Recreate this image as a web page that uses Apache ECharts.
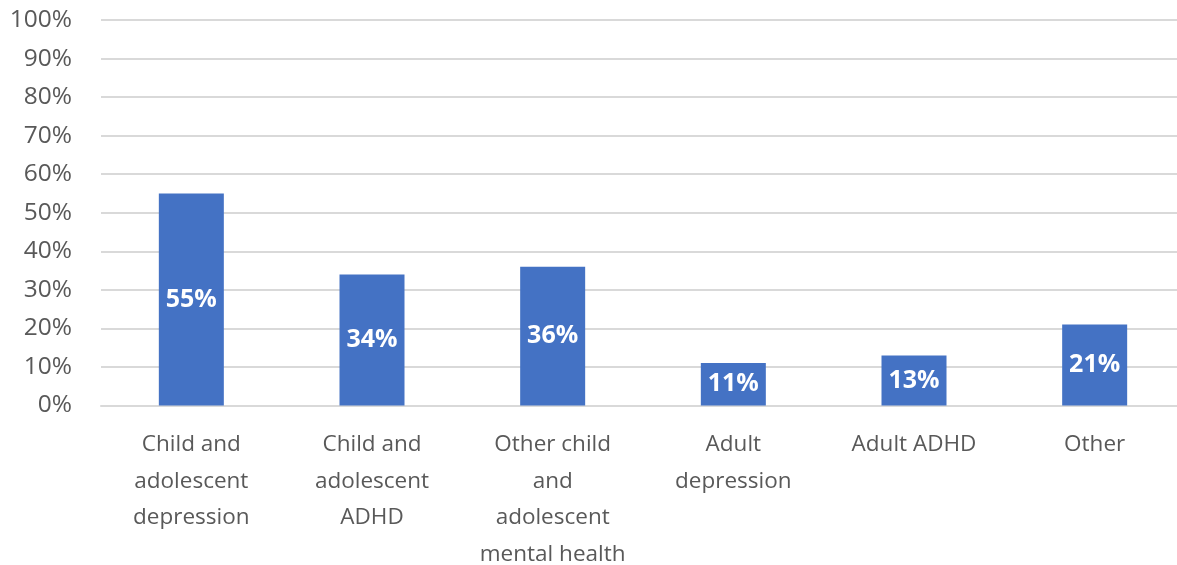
<!DOCTYPE html>
<html>
<head>
<meta charset="utf-8">
<script src="https://cdn.jsdelivr.net/npm/echarts@6/dist/echarts.min.js"></script>
<style>
  html, body { margin: 0; padding: 0; background: #ffffff; }
  #chart { width: 1177px; height: 565px; }
</style>
</head>
<body>
<div id="chart"></div>
<script>
// Share of items by clinical area (percent)
const categories = [
  'Child and\nadolescent\ndepression',
  'Child and\nadolescent\nADHD',
  'Other child\nand\nadolescent\nmental health',
  'Adult\ndepression',
  'Adult ADHD',
  'Other'
];
const shares = [55, 34, 36, 11, 13, 21];
const yTicks = [0, 10, 20, 30, 40, 50, 60, 70, 80, 90, 100];

const FONT = '"Open Sans", "Liberation Sans", sans-serif';
const chart = echarts.init(document.getElementById('chart'), null, { renderer: 'canvas' });

chart.setOption({
  animation: false,
  grid: {
    left: 101, right: -8, top: 20, bottom: 159.5,
    containLabel: false,
    outerBoundsMode: 'none'
  },
  xAxis: {
    type: 'category',
    data: categories,
    axisTick: { show: false },
    axisLine: { show: true, lineStyle: { color: '#d9d9d9', width: 2 } },
    axisLabel: {
      color: '#595959',
      fontFamily: FONT,
      fontSize: 22.5,
      lineHeight: 36.5,
      margin: 21,
      interval: 0
    }
  },
  yAxis: {
    type: 'value',
    min: yTicks[0],
    max: yTicks[yTicks.length - 1],
    interval: 10,
    axisLine: { show: false },
    axisTick: { show: false },
    splitLine: { lineStyle: { color: '#d9d9d9', width: 2 } },
    axisLabel: {
      color: '#595959',
      fontFamily: FONT,
      fontSize: 24.5,
      margin: 29,
      formatter: v => v + '%'
    }
  },
  series: [{
    type: 'bar',
    data: shares,
    barWidth: 65,
    itemStyle: { color: '#4472c4' },
    label: {
      show: true,
      position: 'inside',
      color: '#ffffff',
      fontFamily: FONT,
      fontWeight: 'bold',
      fontSize: 25,
      formatter: p => p.value + '%'
    }
  }]
});
</script>
</body>
</html>
